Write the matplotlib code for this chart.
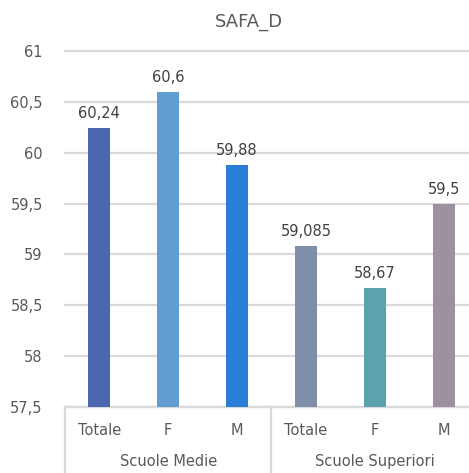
import matplotlib.pyplot as plt
from matplotlib.lines import Line2D

groups = ["Scuole Medie", "Scuole Superiori"]
categories = ["Totale", "F", "M", "Totale", "F", "M"]
values = [60.24, 60.6, 59.88, 59.085, 58.67, 59.5]
value_labels = ["60,24", "60,6", "59,88", "59,085", "58,67", "59,5"]
colors = ["#4A66AC", "#629DD1", "#297FD5", "#7F8FA9", "#5AA2AE", "#9D90A0"]
yticks = [57.5, 58, 58.5, 59, 59.5, 60, 60.5, 61]

plt.rcParams['font.family'] = ['DejaVu Sans']
txt = "#595959"
grid = "#D9D9D9"

fig = plt.figure(figsize=(4.69, 4.73), dpi=100)
ax = fig.add_axes([65 / 469, 1 - 407 / 473, 404 / 469, 356 / 473])

x = list(range(len(values)))
ax.bar(x, values, width=0.32, color=colors, zorder=3)
ax.set_ylim(57.5, 61)
ax.set_xlim(-0.5, 5.37)

ax.set_yticks(yticks)
ax.set_yticklabels([("%g" % v).replace(".", ",") for v in yticks],
                   fontsize=10.5, color=txt)
ax.tick_params(axis='y', length=0, pad=16)
ax.tick_params(axis='x', length=0)
ax.set_xticks([])
ax.grid(axis='y', color=grid, linewidth=1.6, zorder=0)
for gl in ax.get_ygridlines():
    gl.set_clip_on(False)
for s in ["top", "right", "left"]:
    ax.spines[s].set_visible(False)
ax.spines["bottom"].set_color(grid)
ax.spines["bottom"].set_linewidth(1.6)

for xi, v, lab in zip(x, values, value_labels):
    ax.annotate(lab, (xi, v), xytext=(0, 5), textcoords="offset points",
                ha="center", va="bottom", fontsize=10.5, color="#404040")

trans = ax.get_xaxis_transform()
for xi, c in zip(x, categories):
    ax.text(xi, -23 / 356, c, transform=trans, ha="center", va="center",
            fontsize=10.5, color=txt)
for gi, g in enumerate(groups):
    ax.text(1 + 3 * gi, -54 / 356, g, transform=trans, ha="center",
            va="center", fontsize=10.5, color=txt)

for xs in [-0.5, 2.5]:
    ax.add_line(Line2D([xs, xs], [0, -66 / 356], transform=trans,
                       color=grid, linewidth=1.6, clip_on=False))

fig.text(249 / 469, 1 - 22 / 473, "SAFA_D", ha="center", va="center",
         fontsize=13, color=txt)

fig.savefig("out.png", dpi=100)
